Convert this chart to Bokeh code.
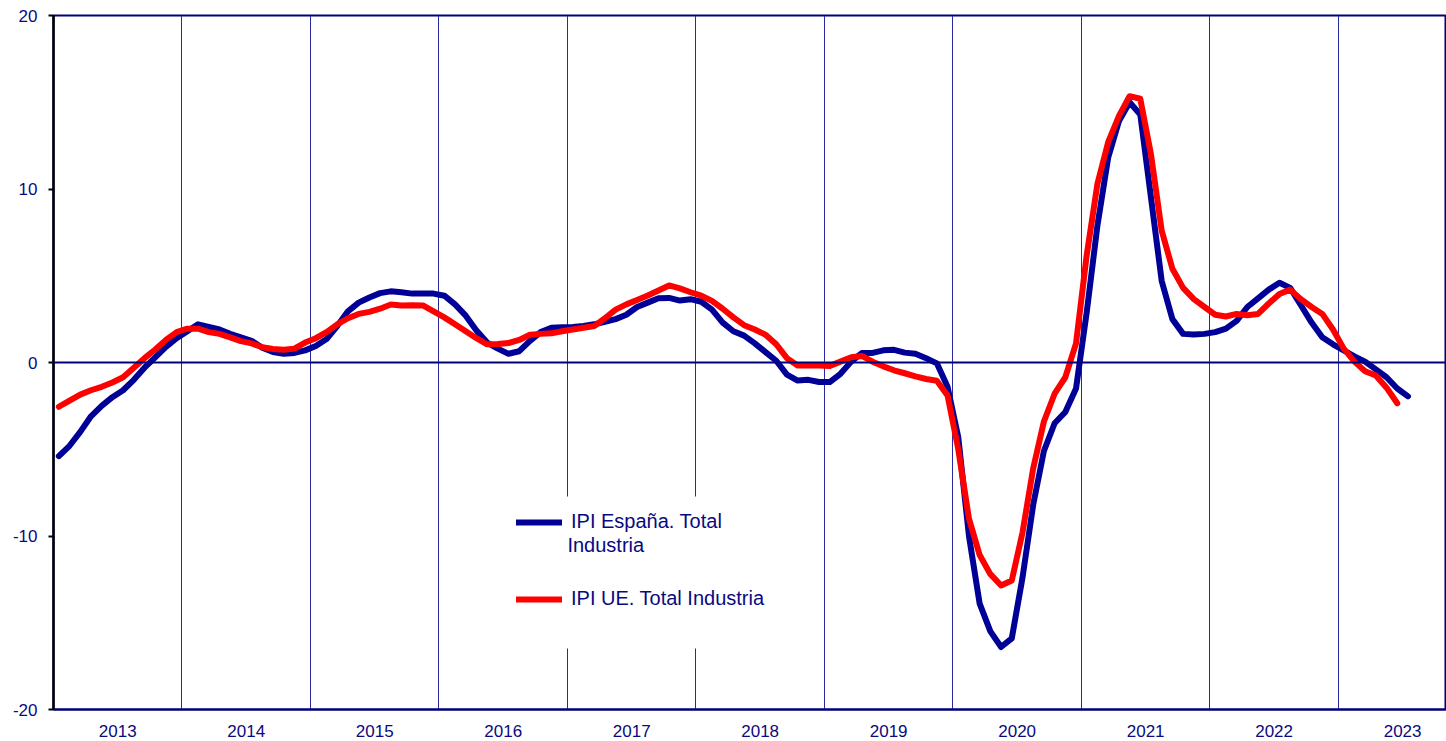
import numpy as np
from bokeh.plotting import figure
from bokeh.models import (Range1d, FixedTicker, Span, Legend, LegendItem, ColumnDataSource,
                          Label, BoxAnnotation)
from bokeh.embed import file_html
from bokeh.resources import INLINE

# ---- data (monthly, Jan 2013 onwards) ----
years = ["2013", "2014", "2015", "2016", "2017", "2018", "2019", "2020", "2021", "2022", "2023"]
y_ticks = [-20, -10, 0, 10, 20]

ipi_espana = [
    -5.4, -4.8, -4.0, -3.1, -2.5, -2.0, -1.6, -1.0, -0.3, 0.3, 0.9, 1.4,
    1.8, 2.2, 2.05, 1.9, 1.65, 1.45, 1.25, 0.85, 0.6, 0.5, 0.55, 0.7,
    0.95, 1.35, 2.1, 2.95, 3.45, 3.75, 4.0, 4.1, 4.05, 3.97, 3.97, 3.97,
    3.85, 3.35, 2.7, 1.85, 1.15, 0.8, 0.5, 0.65, 1.25, 1.75, 2.0, 2.03,
    2.05, 2.1, 2.2, 2.35, 2.5, 2.75, 3.2, 3.45, 3.7, 3.72, 3.57, 3.65,
    3.5, 3.05, 2.3, 1.8, 1.55, 1.1, 0.6, 0.1, -0.7, -1.04, -1.0, -1.12,
    -1.13, -0.65, 0.05, 0.55, 0.55, 0.7, 0.73, 0.57, 0.5, 0.25, -0.05, -1.4,
    -4.3, -10.0, -13.9, -15.5, -16.4, -15.9, -12.4, -8.2, -5.1, -3.5, -2.85, -1.5,
    2.9, 7.9, 11.8, 13.9, 15.0, 14.3, 9.5, 4.7, 2.5, 1.65, 1.62, 1.65,
    1.75, 1.95, 2.4, 3.2, 3.7, 4.2, 4.6, 4.3, 3.3, 2.3, 1.45, 1.05,
    0.7, 0.35, 0.05, -0.4, -0.85, -1.5, -1.95,
]

ipi_ue = [
    -2.55, -2.2, -1.85, -1.6, -1.4, -1.15, -0.85, -0.3, 0.25, 0.75, 1.3, 1.75,
    1.95, 1.95, 1.75, 1.65, 1.45, 1.23, 1.1, 0.88, 0.78, 0.73, 0.8, 1.15,
    1.4, 1.75, 2.2, 2.55, 2.8, 2.92, 3.1, 3.34, 3.28, 3.3, 3.29, 2.95,
    2.6, 2.2, 1.8, 1.4, 1.05, 1.07, 1.12, 1.3, 1.6, 1.65, 1.68, 1.8,
    1.9, 2.0, 2.1, 2.55, 3.05, 3.35, 3.6, 3.86, 4.15, 4.44, 4.27, 4.05,
    3.85, 3.55, 3.1, 2.6, 2.15, 1.9, 1.6, 1.05, 0.25, -0.17, -0.17, -0.17,
    -0.2, 0.05, 0.3, 0.38, 0.05, -0.22, -0.45, -0.62, -0.8, -0.95, -1.05, -1.9,
    -5.0, -9.0, -11.1, -12.2, -12.85, -12.56, -9.8, -6.1, -3.4, -1.8, -0.85, 1.1,
    6.2, 10.3, 12.7, 14.2, 15.35, 15.2, 12.0, 7.6, 5.4, 4.3, 3.65, 3.2,
    2.75, 2.65, 2.8, 2.72, 2.8, 3.4, 3.95, 4.2, 3.65, 3.2, 2.8, 1.9,
    0.8, 0.05, -0.5, -0.75, -1.45, -2.35,
]

label_es_1 = "IPI España. Total"
label_es_2 = "Industria"
label_ue = "IPI UE. Total Industria"

NAVY = "#000096"
RED = "#ff0000"
TXT = "#0a0a80"
FONT = "Liberation Sans"

x_es = np.arange(len(ipi_espana)) + 0.5
x_ue = np.arange(len(ipi_ue)) + 0.5

p = figure(width=1446, height=741, output_backend="svg", toolbar_location=None,
           x_range=Range1d(0, 130.1), y_range=Range1d(-20, 20),
           min_border_left=53, min_border_right=0, min_border_top=15, min_border_bottom=32)
p.background_fill_color = "white"
p.border_fill_color = "white"
p.outline_line_color = "#00007a"
p.outline_line_width = 2

# axes
p.xaxis.ticker = FixedTicker(ticks=[6 + 12 * i for i in range(len(years))])
p.xaxis.major_label_overrides = {6 + 12 * i: y for i, y in enumerate(years)}
p.xaxis.major_tick_line_color = None
p.xaxis.minor_tick_line_color = None
p.xaxis.axis_line_color = "#00007a"
p.xaxis.axis_line_width = 2
p.xaxis.major_label_standoff = 9
p.xaxis.major_label_text_font = FONT
p.xaxis.major_label_text_font_size = "17px"
p.xaxis.major_label_text_color = TXT

p.yaxis.ticker = FixedTicker(ticks=y_ticks)
p.yaxis.major_label_overrides = {v: str(v) for v in y_ticks}
p.yaxis.axis_line_color = "black"
p.yaxis.axis_line_width = 2.5
p.yaxis.major_tick_line_color = "black"
p.yaxis.major_tick_line_width = 2
p.yaxis.major_tick_out = 5
p.yaxis.major_tick_in = 0
p.yaxis.minor_tick_line_color = None
p.yaxis.major_label_standoff = 11
p.yaxis.major_label_text_font = FONT
p.yaxis.major_label_text_font_size = "17px"
p.yaxis.major_label_text_color = TXT

# grids
p.xgrid.ticker = FixedTicker(ticks=[12 * i for i in range(1, len(years))])
p.xgrid.grid_line_color = "#2a2aa0"
p.xgrid.grid_line_width = 1
p.ygrid.grid_line_color = None

p.add_layout(Span(location=0, dimension="width", line_color="#00007a", line_width=2))

# white legend background (hides the year gridlines behind the legend)
p.add_layout(BoxAnnotation(left=42.2, right=70.0, top=-7.72, bottom=-16.48,
                           fill_color="white", fill_alpha=1, line_color=None))

src_es = ColumnDataSource(dict(x=x_es, y=ipi_espana))
src_ue = ColumnDataSource(dict(x=x_ue, y=ipi_ue))
r_es = p.line("x", "y", source=src_es, line_color=NAVY, line_width=6,
              line_cap="round", line_join="round")
r_ue = p.line("x", "y", source=src_ue, line_color=RED, line_width=6,
              line_cap="round", line_join="round")

legend = Legend(items=[LegendItem(label=label_es_1, renderers=[r_es]),
                       LegendItem(label=label_ue, renderers=[r_ue])],
                location=(463, 99), orientation="vertical")
legend.background_fill_alpha = 0
legend.border_line_color = None
legend.padding = 15
legend.margin = 0
legend.spacing = 54
legend.glyph_width = 46
legend.glyph_height = 22
legend.label_height = 22
legend.label_standoff = 9
legend.label_width = 230
legend.label_text_font = FONT
legend.label_text_font_size = "20px"
legend.label_text_color = TXT
legend.label_text_line_height = 1.0
p.add_layout(legend, "center")

# second line of the Spain legend label
p.add_layout(Label(x=48.0, y=-10.52, text=label_es_2, text_font=FONT, text_font_size="20px",
                   text_color=TXT, text_baseline="middle", text_align="left", level="overlay"))

open("out.html", "w").write(file_html(p, INLINE))
